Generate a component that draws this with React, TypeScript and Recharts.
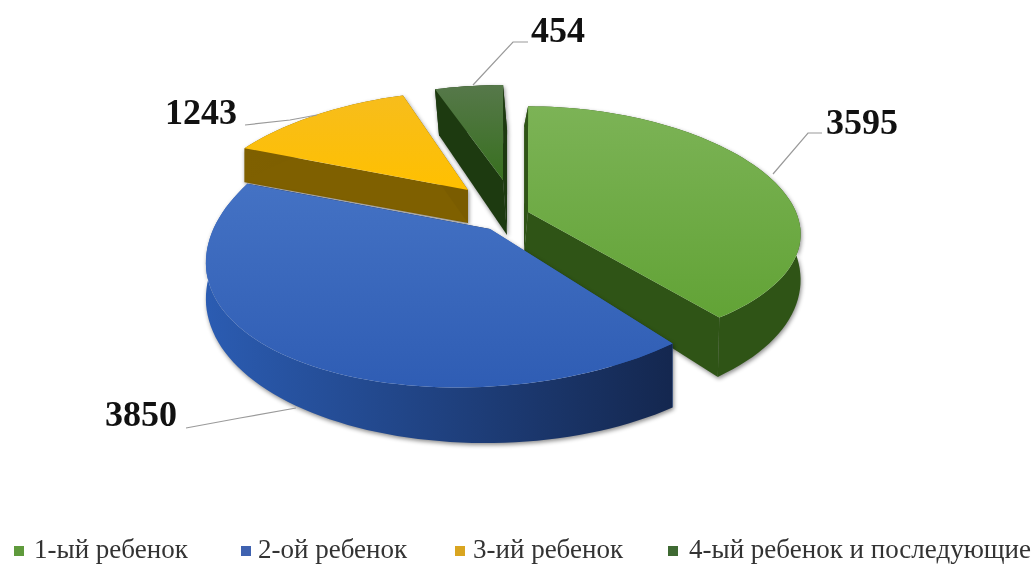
import React from "react";
import { PieChart, Pie, Legend } from "recharts";

const categories = ["1-ый ребенок", "2-ой ребенок", "3-ий ребенок", "4-ый ребенок и последующие"];
const counts = [3595, 3850, 1243, 454];
const topColors = ["#7cb356", "#4472c4", "#f7bd1c", "#56784a"];
const bottomColors = ["#62a336", "#2f5db4", "#ffc000", "#38701f"];
const wallLeft = ["#2f5416", "#2b5cb2", "#7f6000", "#1d3a10"];
const wallRight = ["#2f5416", "#14274f", "#7a5c00", "#1d3a10"];
const legendColors = ["#5f9a3c", "#3f62b0", "#d9a520", "#3f6a33"];

// 3D look of each slice: where it sits and how the disc is squashed
const views = [
  { cx: 528, cy: 212, rx: 268, kx: 0.19, sh: 0, ry: 122, ky: 0.134, tilt: 0, d0: 42, d1: 22, du: 0, dx: -4, dxu: 4 },
  { cx: 490, cy: 229, rx: 281, kx: 0.115, sh: -10, ry: 147, ky: 0.075, tilt: -12, d0: 50, d1: 6, du: 15, dx: 0, dxu: 0 },
  { cx: 468, cy: 190, rx: 265, kx: 0.21, sh: 0, ry: 111, ky: 0.11, tilt: 0, d0: 33, d1: -3, du: 0, dx: 0, dxu: 0 },
  { cx: 503, cy: 180, rx: 240, kx: 0.08, sh: 0, ry: 100, ky: 0.05, tilt: 0, d0: 55, d1: 9.5, du: 0, dx: 4, dxu: 0 },
];

const labelSpots = [
  { x: 826, y: 134, line: "773,174 808,133 822,133" },
  { x: 105, y: 426, line: "296,408 240,418 186,428" },
  { x: 165, y: 124, line: "317,115 290,120 245,125" },
  { x: 531, y: 42, line: "473,85 513,42 528,42" },
];

const legendSpots = [
  { box: 14, text: 34 },
  { box: 241, text: 258 },
  { box: 455, text: 473 },
  { box: 668, text: 689 },
];

// yellow slice first so the blue one ends up on top of it
const drawOrder = [2, 3, 0, 1];
const pieData = drawOrder.map((i) => ({ name: categories[i], value: counts[i], slot: i }));

const project = (v: any, deg: number) => {
  const a = (deg * Math.PI) / 180;
  const u = Math.sin(a);
  const w = -Math.cos(a);
  return {
    x: v.cx + v.rx * u * (1 + v.kx * w) + v.sh * w,
    y: v.cy + v.ry * w * (1 + v.ky * w) + v.tilt * u,
    depth: v.d0 + v.d1 * w + v.du * u,
    shift: v.dx + v.dxu * u,
  };
};

const toPath = (pts: { x: number; y: number }[]) =>
  "M" + pts.map((p) => `${p.x.toFixed(1)},${p.y.toFixed(1)}`).join("L") + "Z";

const Slice3D = (props: any) => {
  const slot = props.slot ?? props.payload?.slot;
  const v = views[slot];
  const from = 90 - props.startAngle;
  const to = 90 - props.endAngle;
  const arc: any[] = [];
  const steps = Math.ceil((to - from) / 2);
  for (let s = 0; s <= steps; s++) arc.push(project(v, from + ((to - from) * s) / steps));
  const low = (p: any) => ({ x: p.x + p.shift, y: p.y + p.depth });
  const apex = { x: v.cx, y: v.cy, depth: v.d0, shift: v.dx };
  const first = arc[0];
  const last = arc[arc.length - 1];
  const outer = [...arc, ...arc.map(low).reverse()];
  const edgeA = [apex, first, low(first), low(apex)];
  const edgeB = [apex, last, low(last), low(apex)];
  return (
    <g>
      <defs>
        <linearGradient id={`top-${slot}`} x1="0" y1="0" x2="0" y2="1">
          <stop offset="0%" stopColor={topColors[slot]} />
          <stop offset="100%" stopColor={bottomColors[slot]} />
        </linearGradient>
        <linearGradient id={`wall-${slot}`} x1="0" y1="0" x2="1" y2="0">
          <stop offset="0%" stopColor={wallLeft[slot]} />
          <stop offset="100%" stopColor={wallRight[slot]} />
        </linearGradient>
      </defs>
      <g style={{ filter: "drop-shadow(1px 2px 2px rgba(0,0,0,0.45))" }}>
        <path d={toPath(edgeA)} fill={wallLeft[slot]} />
        <path d={toPath(edgeB)} fill={wallRight[slot]} />
        <path d={toPath(outer)} fill={`url(#wall-${slot})`} />
      </g>
      <path d={toPath([apex, ...arc])} fill={`url(#top-${slot})`} />
    </g>
  );
};

const SliceLabel = (props: any) => {
  const slot = props.slot ?? props.payload?.slot;
  const spot = labelSpots[slot];
  return (
    <text x={spot.x} y={spot.y} fontFamily="Liberation Serif" fontWeight="bold" fontSize={36} fill="#111">
      {counts[slot]}
    </text>
  );
};

const SliceLeader = (props: any) => {
  const slot = props.slot ?? props.payload?.slot;
  return <polyline points={labelSpots[slot].line} fill="none" stroke="#9a9a9a" strokeWidth={1.2} />;
};

const LegendRow = () => (
  <div style={{ position: "relative", width: 1035, height: 31 }}>
    {categories.map((c, i) => (
      <React.Fragment key={c}>
        <span
          style={{
            position: "absolute",
            left: legendSpots[i].box,
            top: 12,
            width: 10,
            height: 10,
            background: legendColors[i],
          }}
        />
        <span
          style={{
            position: "absolute",
            left: legendSpots[i].text,
            top: 0,
            fontFamily: "Liberation Serif",
            fontSize: 27,
            lineHeight: "31px",
            color: "#333",
            whiteSpace: "nowrap",
          }}
        >
          {c}
        </span>
      </React.Fragment>
    ))}
  </div>
);

export default function App() {
  return (
    <div style={{ position: "absolute", left: 0, top: 0, filter: "blur(0.5px)" }}>
      <PieChart width={1035} height={565} margin={{ top: 0, right: 0, bottom: 0, left: 0 }}>
        <Pie
          data={pieData}
          dataKey="value"
          nameKey="name"
          cx={500}
          cy={240}
          outerRadius={200}
          startAngle={156.8}
          endAngle={-203.2}
          paddingAngle={0}
          shape={Slice3D}
          label={SliceLabel}
          labelLine={SliceLeader}
          isAnimationActive={false}
        />
        <Legend
          content={LegendRow}
          layout="horizontal"
          verticalAlign="bottom"
          wrapperStyle={{ left: 0, bottom: 0, width: 1035 }}
        />
      </PieChart>
    </div>
  );
}
